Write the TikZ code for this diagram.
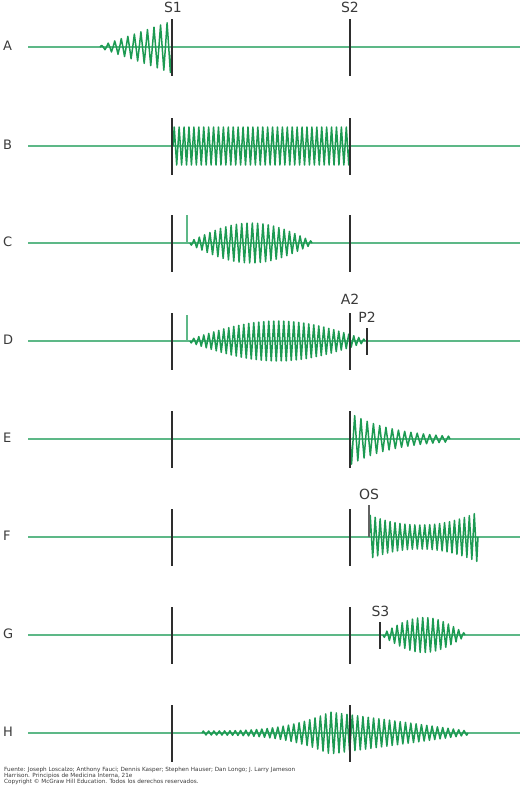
\documentclass[tikz,border=0pt]{standalone}
\usepackage{fontspec}
\setmainfont{DejaVu Sans}
\definecolor{wavegreen}{HTML}{1C9A52}
\definecolor{basegreen}{HTML}{5DB887}
\definecolor{bargray}{HTML}{2E2E2E}
\definecolor{txtgray}{HTML}{3A3A3A}
\begin{document}
\begin{tikzpicture}[x=1pt,y=-1pt,
  baseln/.style={basegreen, line width=1.7pt},
  wave/.style={wavegreen, line width=1.5pt, line join=round},
  spike/.style={basegreen, line width=1.4pt},
  sbar/.style={bargray, line width=2.5pt},
  smallbar/.style={bargray, line width=2pt},
  thinbar/.style={bargray!75, line width=1.2pt},
  rowlab/.style={font=\fontsize{13}{13}\selectfont, text=txtgray, inner sep=0pt, anchor=west},
  snd/.style={font=\fontsize{14}{14}\selectfont, text=txtgray, inner sep=0pt},
  declare function={
    envH(\t)=(\t<330)*(2+19*((\t-202)/128)*((\t-202)/128)*((\t-202)/128)) + (\t>=330)*(2+19*(468-\t)/138);
    ph(\t,\s,\p)=360*mod((\t-\s)/\p,1);
  }
]
\useasboundingbox (0,0) rectangle (520,790);

% baselines and row labels
\foreach \lab/\y in {A/47,B/146,C/243,D/341,E/439,F/537,G/635,H/733}{
  \draw[baseln] (28,\y) -- (520,\y);
  \node[rowlab] (lab\lab) at (3,\y-1) {\lab};
}

% A: crescendo presystolic
\draw[wave] plot[domain=100:172, samples=45] (\x,{47-(1+25*(\x-100)/72)*sin(ph(\x,100,6.545))});
% B: holosystolic
\draw[wave] plot[domain=173:350, samples=145] (\x,{146-19*sin(ph(\x,173,4.9167))});
% C: ejection click + crescendo-decrescendo
\draw[spike] (187,243) -- (187,215);
\draw[wave] plot[domain=190:312, samples=93] (\x,{243+(1.5+18.5*sin((\x-190)/122*180))*sin(ph(\x,190,5.3043))});
% D
\draw[spike] (187,341) -- (187,315);
\draw[wave] plot[domain=190:365, samples=141] (\x,{341+(1.5+18.5*sin((\x-190)/175*180))*sin(ph(\x,190,5.0))});
% E: decrescendo diastolic
\draw[wave] plot[domain=350:450, samples=65] (\x,{439+26*exp(-(\x-350)/45)*sin(ph(\x,350,6.25))});
% F: opening snap + rumble
\draw[wave] plot[domain=369:478, samples=89] (\x,{537-(12+0.00385*(\x-420)*(\x-420))*sin(ph(\x,369,4.9545))});
% G: S3 + mid-diastolic
\draw[wave] plot[domain=383:465, samples=65] (\x,{635+(1.5+16*sin((\x-383)/82*180))*sin(ph(\x,383,5.125))});
% H: continuous
\draw[wave] plot[domain=202:468, samples=201] (\x,{733-envH(\x)*sin(ph(\x,202,5.32))});

% S1 / S2 bars
\foreach \y in {47,146,243,341,439,537,635,733}{
  \draw[sbar] (172,\y-28) -- (172,\y+29);
  \draw[sbar] (350,\y-28) -- (350,\y+29);
}
\draw[smallbar] (367,328) -- (367,355);
\draw[thinbar] (369,505) -- (369,537);
\draw[smallbar] (380,622) -- (380,649);

% sound labels
\node[snd] (s1) at (173,7) {S1};
\node[snd] (s2) at (350,7) {S2};
\node[snd] (a2) at (350,299) {A2};
\node[snd] (p2) at (367,317) {P2};
\node[snd] (os) at (369,494) {OS};
\node[snd] (s3) at (380.5,611) {S3};

% footer
\node[anchor=base west, inner sep=0pt, align=left, text=txtgray,
      font=\fontsize{5.7}{5.8}\selectfont] (foot) at (4,783)
  {Fuente: Joseph Loscalzo; Anthony Fauci; Dennis Kasper; Stephen Hauser; Dan Longo; J. Larry Jameson\\
   Harrison. Principios de Medicina Interna, 21e\\
   Copyright \textcopyright{} McGraw Hill Education. Todos los derechos reservados.};
\end{tikzpicture}
\end{document}
